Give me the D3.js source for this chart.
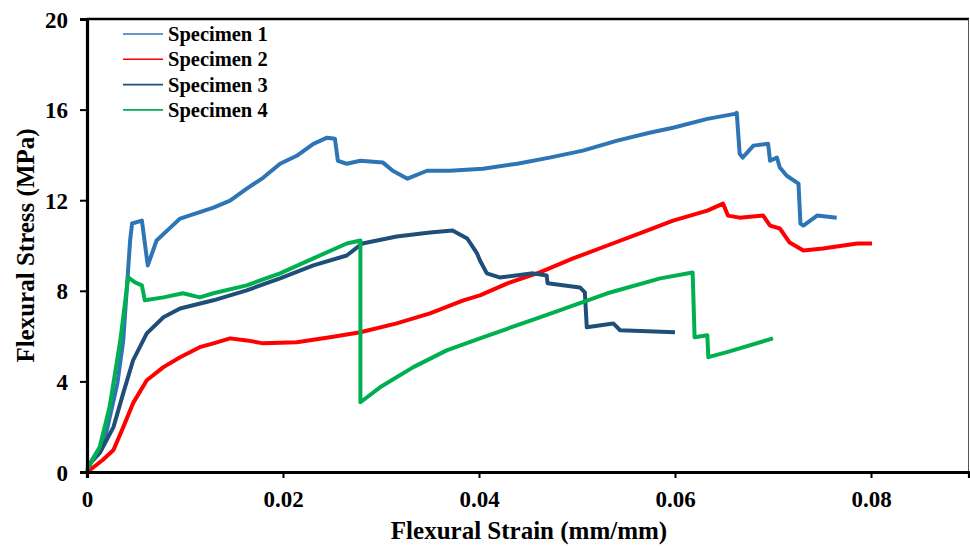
<!DOCTYPE html>
<html>
<head>
<meta charset="utf-8">
<script src="https://cdn.jsdelivr.net/npm/d3@7"></script>
<style>
  body { margin: 0; background: #fff; }
  text { font-family: "Liberation Serif", "Times New Roman", serif; font-weight: bold; fill: #000; }
</style>
</head>
<body>
<svg id="chart" width="970" height="546"></svg>
<script>
// strain (mm/mm), stress (MPa)
const specimen1 = [
  [0, 0], [0.0005, 0.53], [0.0018, 1.41], [0.0031, 3.92], [0.0037, 5.81], [0.0044, 10.22],
  [0.0046, 10.97], [0.0056, 11.10], [0.0062, 9.12], [0.0071, 10.22], [0.0085, 10.79],
  [0.0095, 11.19], [0.0129, 11.67], [0.0146, 11.98], [0.0163, 12.51], [0.0180, 13.00],
  [0.0197, 13.61], [0.0214, 13.96], [0.0231, 14.49], [0.0245, 14.76], [0.0253, 14.71],
  [0.0256, 13.74], [0.0265, 13.61], [0.0279, 13.74], [0.0302, 13.66], [0.0312, 13.30],
  [0.0327, 12.95], [0.0347, 13.30], [0.0370, 13.30], [0.0404, 13.39], [0.0439, 13.61],
  [0.0472, 13.88], [0.0506, 14.19], [0.0541, 14.63], [0.0574, 14.98], [0.0598, 15.20],
  [0.0633, 15.59], [0.0661, 15.81], [0.0663, 15.86], [0.0666, 14.05], [0.0669, 13.88],
  [0.0680, 14.41], [0.0695, 14.49], [0.0697, 13.74], [0.0704, 13.88], [0.0707, 13.44],
  [0.0714, 13.08], [0.0726, 12.73], [0.0728, 10.97], [0.0731, 10.88], [0.0745, 11.32],
  [0.0765, 11.23]
];
const specimen2 = [
  [0, 0], [0.0003, 0.09], [0.0016, 0.53], [0.0027, 0.97], [0.0037, 1.98], [0.0047, 3.04],
  [0.0061, 4.05], [0.0078, 4.63], [0.0095, 5.07], [0.0115, 5.51], [0.0129, 5.68],
  [0.0146, 5.90], [0.0163, 5.81], [0.0180, 5.68], [0.0214, 5.73], [0.0248, 5.95],
  [0.0279, 6.17], [0.0316, 6.56], [0.0350, 7.00], [0.0384, 7.58], [0.0401, 7.80],
  [0.0429, 8.33], [0.0462, 8.81], [0.0496, 9.43], [0.0531, 10.00], [0.0564, 10.53],
  [0.0598, 11.10], [0.0633, 11.54], [0.0649, 11.85], [0.0654, 11.32], [0.0666, 11.23],
  [0.0690, 11.32], [0.0697, 10.88], [0.0707, 10.75], [0.0717, 10.13], [0.0731, 9.78],
  [0.0751, 9.87], [0.0786, 10.09], [0.0801, 10.09]
];
const specimen3 = [
  [0, 0.22], [0.0013, 0.84], [0.0027, 1.98], [0.0037, 3.48], [0.0047, 4.93], [0.0061, 6.12],
  [0.0078, 6.83], [0.0095, 7.22], [0.0129, 7.58], [0.0163, 8.02], [0.0197, 8.55],
  [0.0231, 9.12], [0.0265, 9.56], [0.0281, 10.09], [0.0316, 10.40], [0.0350, 10.57],
  [0.0373, 10.66], [0.0388, 10.31], [0.0398, 9.65], [0.0401, 9.34], [0.0408, 8.77],
  [0.0421, 8.59], [0.0455, 8.77], [0.0469, 8.68], [0.0470, 8.33], [0.0503, 8.15],
  [0.0508, 7.93], [0.0510, 6.39], [0.0537, 6.56], [0.0544, 6.26], [0.0600, 6.17]
];
const specimen4 = [
  [0, 0.09], [0.0013, 1.10], [0.0023, 2.86], [0.0034, 5.81], [0.0042, 8.59], [0.0049, 8.37],
  [0.0056, 8.24], [0.0059, 7.58], [0.0078, 7.71], [0.0098, 7.89], [0.0115, 7.71],
  [0.0129, 7.89], [0.0163, 8.24], [0.0197, 8.77], [0.0231, 9.43], [0.0265, 10.09],
  [0.0279, 10.22], [0.0279, 3.08], [0.0299, 3.74], [0.0333, 4.63], [0.0367, 5.37],
  [0.0401, 5.90], [0.0462, 6.83], [0.0531, 7.89], [0.0585, 8.55], [0.0618, 8.81],
  [0.0620, 5.95], [0.0633, 6.04], [0.0634, 5.07], [0.0653, 5.29], [0.0700, 5.90]
];

const seriesNames = ['Specimen 1', 'Specimen 2', 'Specimen 3', 'Specimen 4'];
const seriesColors = ['#2E75B6', '#FF0000', '#1F4E79', '#00B050'];
const xTicks = [0, 0.02, 0.04, 0.06, 0.08];
const yTicks = [0, 4, 8, 12, 16, 20];

const svg = d3.select('#chart');
const margin = { top: 19, right: 1, bottom: 74, left: 87 };
const width = +svg.attr('width');
const height = +svg.attr('height');

const x = d3.scaleLinear().domain([0, 0.09]).range([margin.left, width - margin.right]);
const y = d3.scaleLinear().domain([0, 20]).range([height - margin.bottom, margin.top]);

// frame: thick top, thin grey right
svg.append('line')
  .attr('x1', x(0)).attr('x2', x(0.09)).attr('y1', y(20)).attr('y2', y(20))
  .attr('stroke', '#000').attr('stroke-width', 2.5);
svg.append('line')
  .attr('x1', x(0.09) - 0.5).attr('x2', x(0.09) - 0.5).attr('y1', y(20)).attr('y2', y(0))
  .attr('stroke', '#555').attr('stroke-width', 1);

const line = d3.line().x(d => x(d[0])).y(d => y(d[1]));
[specimen1, specimen2, specimen3, specimen4].forEach(function(data, i) {
  svg.append('path')
    .datum(data)
    .attr('fill', 'none')
    .attr('stroke', seriesColors[i])
    .attr('stroke-width', 4)
    .attr('stroke-linejoin', 'round')
    .attr('d', line);
});

// axes
const xAxis = svg.append('g')
  .attr('transform', `translate(0,${y(0)})`)
  .call(d3.axisBottom(x).tickValues(xTicks).tickSize(6).tickPadding(13)
    .tickFormat(d => d === 0 ? '0' : d3.format('.2f')(d)));
const yAxis = svg.append('g')
  .attr('transform', `translate(${x(0)},0)`)
  .call(d3.axisLeft(y).tickValues(yTicks).tickSize(7).tickPadding(12));

[xAxis, yAxis].forEach(function(g) {
  g.select('.domain').attr('stroke', '#000').attr('stroke-width', 3.2);
  g.selectAll('.tick line').attr('stroke', '#000').attr('stroke-width', 2);
  g.selectAll('.tick text').style('font-size', '23px').style('font-family', '"Liberation Serif", serif').style('font-weight', 'bold');
});
yAxis.selectAll('.tick text').attr('dy', '0.35em');

// axis titles
svg.append('text')
  .attr('x', 529)
  .attr('y', 539)
  .attr('text-anchor', 'middle')
  .style('font-size', '25px')
  .text('Flexural Strain (mm/mm)');
svg.append('text')
  .attr('transform', `translate(34,${(y(0) + y(20)) / 2}) rotate(-90)`)
  .attr('text-anchor', 'middle')
  .style('font-size', '25px')
  .text('Flexural Stress (MPa)');

// legend
const legend = svg.append('g').attr('transform', 'translate(123,34)');
seriesNames.forEach(function(name, i) {
  const row = legend.append('g').attr('transform', `translate(0,${i * 25.3})`);
  row.append('line').attr('x1', 0).attr('x2', 40).attr('y1', 0).attr('y2', 0)
    .attr('stroke', seriesColors[i]).attr('stroke-width', 1.6);
  row.append('text').attr('x', 45).attr('y', 7).style('font-size', '20.5px').text(name);
});
</script>
</body>
</html>
